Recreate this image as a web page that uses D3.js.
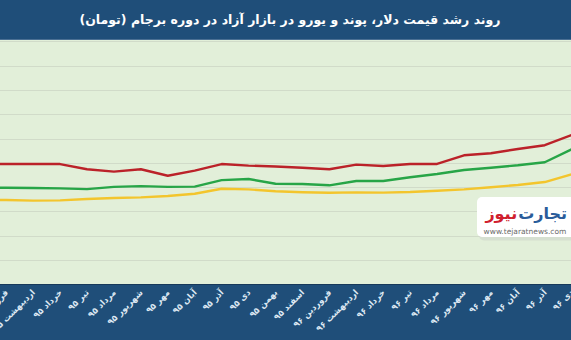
<!DOCTYPE html>
<html>
<head>
<meta charset="utf-8">
<script src="https://cdn.jsdelivr.net/npm/d3@7"></script>
<style>
  html, body { margin: 0; padding: 0; background: #1f4e79; }
  svg { display: block; }
</style>
</head>
<body>
<svg id="chart" width="571" height="340"></svg>
<script>
// Months of the JCPOA period (Solar Hijri), first entry is the month before the series starts
const months = [
  "اسفند ۹۴",
  "فروردین ۹۵", "اردیبهشت ۹۵", "خرداد ۹۵", "تیر ۹۵", "مرداد ۹۵", "شهریور ۹۵",
  "مهر ۹۵", "آبان ۹۵", "آذر ۹۵", "دی ۹۵", "بهمن ۹۵", "اسفند ۹۵",
  "فروردین ۹۶", "اردیبهشت ۹۶", "خرداد ۹۶", "تیر ۹۶", "مرداد ۹۶", "شهریور ۹۶",
  "مهر ۹۶", "آبان ۹۶", "آذر ۹۶", "دی ۹۶"
];

// Free-market prices in toman
const pound = [4950, 4950, 4950, 4950, 4735, 4640, 4735, 4470, 4680, 4950, 4885, 4850, 4800,
               4735, 4925, 4870, 4950, 4955, 5310, 5395, 5570, 5725, 6150];
const euro = [3980, 3975, 3965, 3950, 3920, 4010, 4040, 4010, 4020, 4290, 4335, 4140, 4130,
              4075, 4255, 4255, 4405, 4540, 4705, 4800, 4900, 5025, 5560];
const dollar = [3470, 3470, 3445, 3455, 3510, 3555, 3580, 3635, 3730, 3935, 3910, 3830, 3790,
                3770, 3785, 3775, 3800, 3850, 3910, 3995, 4090, 4210, 4530];

const gridValues = [1000, 2000, 3000, 4000, 5000, 6000, 7000, 8000, 9000, 10000];

const titleText = "روند رشد قیمت دلار، پوند و یورو در بازار آزاد در دوره برجام (تومان)";

const W = 571, H = 340;
const plotTop = 39, plotBottom = 284;

const svg = d3.select("#chart");

// Title band
svg.append("rect").attr("x", 0).attr("y", 0).attr("width", W).attr("height", plotTop)
  .attr("fill", "#1f4e79");
svg.append("text")
  .attr("x", 290).attr("y", 23.5)
  .attr("text-anchor", "middle")
  .attr("fill", "#ffffff")
  .attr("font-family", "DejaVu Sans, sans-serif")
  .attr("font-weight", "bold")
  .attr("font-size", 12.5)
  .text(titleText);

// Plot area
svg.append("rect").attr("x", 0).attr("y", plotTop).attr("width", W).attr("height", plotBottom - plotTop)
  .attr("fill", "#e2efd9");
svg.append("line").attr("x1", 0).attr("x2", W).attr("y1", plotTop + 0.5).attr("y2", plotTop + 0.5)
  .attr("stroke", "#4a6f93").attr("stroke-width", 1);

// Axis band
svg.append("rect").attr("x", 0).attr("y", plotBottom).attr("width", W).attr("height", H - plotBottom)
  .attr("fill", "#1f4e79");
svg.append("line").attr("x1", 0).attr("x2", W).attr("y1", plotBottom + 0.5).attr("y2", plotBottom + 0.5)
  .attr("stroke", "#17395a").attr("stroke-width", 1);

const x = d3.scalePoint().domain(months).range([-20.7, 571.7]);
const y = d3.scaleLinear().domain([0, 10000]).range([284.3, 41.4]);

// Horizontal gridlines
svg.append("g").selectAll("line").data(gridValues).join("line")
  .attr("x1", 0).attr("x2", W)
  .attr("y1", d => Math.round(y(d)) + 0.5).attr("y2", d => Math.round(y(d)) + 0.5)
  .attr("stroke", "#d1dbc9").attr("stroke-width", 1);

svg.append("clipPath").attr("id", "plotClip")
  .append("rect").attr("x", 0).attr("y", plotTop).attr("width", W).attr("height", plotBottom - plotTop);

const line = d3.line().x((d, i) => x(months[i])).y(d => y(d));

const series = [
  { values: dollar, color: "#f3c52d" },
  { values: euro, color: "#27a547" },
  { values: pound, color: "#bb2229" }
];

svg.append("g").attr("clip-path", "url(#plotClip)")
  .selectAll("path").data(series).join("path")
  .attr("d", d => line(d.values))
  .attr("fill", "none")
  .attr("stroke", d => d.color)
  .attr("stroke-width", 2.4)
  .attr("stroke-linejoin", "round");

// Rotated month labels (the lead-in month sits off the left edge and gets no label)
const xAxis = d3.axisBottom(x).tickSize(0).tickPadding(0)
  .tickValues(months.slice(1));
const axisG = svg.append("g").attr("transform", `translate(0,${plotBottom})`).call(xAxis);
axisG.select(".domain").remove();
axisG.selectAll(".tick text")
  .attr("fill", "#dde8f3")
  .attr("font-family", "DejaVu Sans, sans-serif")
  .attr("font-weight", "bold")
  .attr("font-size", 8.5)
  .attr("text-anchor", "end")
  .attr("dy", null)
  .attr("y", 0)
  .attr("transform", "translate(2,9) rotate(-45)");

// Publisher badge
const badge = svg.append("g");
badge.append("rect").attr("x", 478).attr("y", 198).attr("width", 110).attr("height", 41).attr("rx", 5)
  .attr("fill", "#cfd6cc").attr("opacity", 0.6).attr("transform", "translate(1,1.5)");
badge.append("rect").attr("x", 477).attr("y", 197).attr("width", 110).attr("height", 40).attr("rx", 5)
  .attr("fill", "#ffffff");
const brandFirst = badge.append("text")
  .attr("x", 567).attr("y", 219)
  .attr("text-anchor", "end")
  .attr("font-family", "DejaVu Sans, sans-serif")
  .attr("font-weight", "bold")
  .attr("font-size", 16)
  .attr("fill", "#2a5c9a")
  .text("تجارت");
const firstWidth = brandFirst.node().getComputedTextLength();
badge.append("text")
  .attr("x", 567 - firstWidth - 1).attr("y", 219)
  .attr("text-anchor", "end")
  .attr("font-family", "DejaVu Sans, sans-serif")
  .attr("font-weight", "bold")
  .attr("font-size", 16)
  .attr("fill", "#d0202e")
  .text("نیوز");
badge.append("text")
  .attr("x", 525).attr("y", 234)
  .attr("text-anchor", "middle")
  .attr("font-family", "DejaVu Sans, sans-serif")
  .attr("font-size", 7.5)
  .attr("fill", "#6b6b6b")
  .text("www.tejaratnews.com");
</script>
</body>
</html>
